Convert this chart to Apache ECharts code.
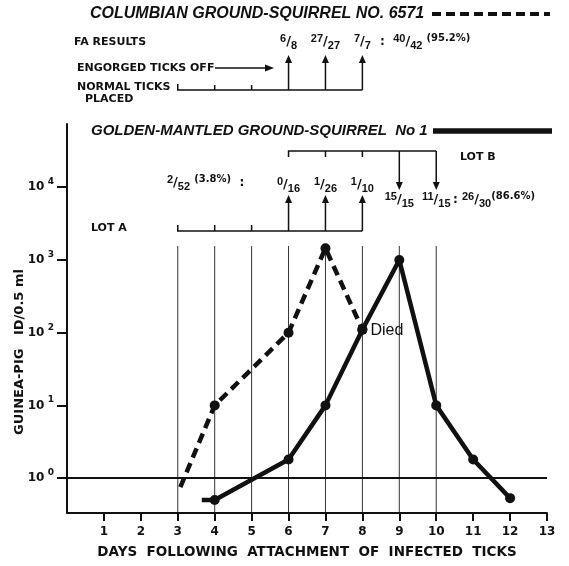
<!DOCTYPE html>
<html>
<head>
<meta charset="utf-8">
<script src="https://cdn.jsdelivr.net/npm/echarts@6/dist/echarts.min.js"></script>
<style>
body{margin:0;background:#fff}
#main{width:569px;height:566px}
</style>
</head>
<body>
<div id="main"></div>
<script>
// guinea-pig ID per 0.5 ml, by day after attachment of infected ticks
var colDays = [3.07, 4, 6, 7, 8];
var colTiter = [0.75, 10, 100, 1450, 110];
var gmDays = [3.65, 4, 6, 7, 8, 9, 10, 11, 12];
var gmTiter = [0.5, 0.5, 1.8, 10, 110, 1000, 10, 1.8, 0.53];

var dayTicks = [1, 2, 3, 4, 5, 6, 7, 8, 9, 10, 11, 12, 13];
var titerTicks = [1, 10, 100, 1000, 10000];
var guideDays = [3, 4, 5, 6, 7, 8, 9, 10];

// FA results
var colFaDays = [6, 7, 8];
var colFa = [['6', '8'], ['27', '27'], ['7', '7']];
var lotADays = [6, 7, 8];
var lotAFa = [['0', '16'], ['1', '26'], ['1', '10']];
var lotBDays = [9, 10];
var lotBFa = [['15', '15'], ['11', '15']];

var INK = '#111';
var FONT = 'DejaVu Sans';

var chart = echarts.init(document.getElementById('main'));

function pts(days, vals) {
    return days.map(function (d, i) {
        if (i === 0) return {value: [d, vals[i]], symbol: 'none'};
        return [d, vals[i]];
    });
}

var option = {
    animation: false,
    backgroundColor: '#fff',
    grid: {left: 67, right: 22, top: 124, bottom: 53, outerBoundsMode: 'none'},
    xAxis: {
        type: 'value',
        min: 0,
        max: 13,
        interval: 1,
        name: 'DAYS  FOLLOWING  ATTACHMENT  OF  INFECTED  TICKS',
        nameLocation: 'middle',
        nameGap: 32,
        nameTextStyle: {color: INK, fontFamily: FONT, fontWeight: 'bold', fontSize: 13.5},
        axisLine: {lineStyle: {color: INK, width: 2}},
        axisTick: {customValues: dayTicks, length: 8, lineStyle: {color: INK, width: 2}},
        axisLabel: {customValues: dayTicks, margin: 13, color: INK, fontFamily: FONT, fontWeight: 'bold', fontSize: 12},
        splitLine: {show: false}
    },
    yAxis: {
        type: 'log',
        logBase: 10,
        min: 0.331,
        max: 74100,
        axisLine: {show: true, lineStyle: {color: INK, width: 2}},
        axisTick: {show: true, customValues: titerTicks, length: 10, lineStyle: {color: INK, width: 2}},
        axisLabel: {
            customValues: titerTicks,
            margin: 13,
            formatter: function (v) {
                return '{b|10} {s|' + Math.round(Math.log10(v)) + '}';
            },
            rich: {
                b: {color: INK, fontFamily: FONT, fontWeight: 'bold', fontSize: 12, lineHeight: 20},
                s: {color: INK, fontFamily: FONT, fontWeight: 'bold', fontSize: 9, verticalAlign: 'top'}
            }
        },
        splitLine: {show: false}
    },
    series: [
        {
            name: 'Columbian ground-squirrel No. 6571',
            type: 'line',
            data: pts(colDays, colTiter),
            symbol: 'circle',
            symbolSize: 10,
            itemStyle: {color: INK},
            lineStyle: {color: INK, width: 4.5, type: [10, 6]},
            z: 4,
            markLine: {
                silent: true,
                symbol: 'none',
                label: {show: false},
                lineStyle: {color: INK, width: 2, type: 'solid'},
                data: [{yAxis: 1}]
            }
        },
        {
            name: 'Golden-mantled ground-squirrel No 1',
            type: 'line',
            data: pts(gmDays, gmTiter),
            symbol: 'circle',
            symbolSize: 10,
            itemStyle: {color: INK},
            lineStyle: {color: INK, width: 4.5},
            z: 5
        }
    ]
};
chart.setOption(option);

// ---- annotations ----
function px(day) {
    return chart.convertToPixel({xAxisIndex: 0}, day);
}
function txt(x, y, s, extra) {
    var st = {text: s, x: x, y: y, fill: INK, font: 'bold 11px "' + FONT + '"', verticalAlign: 'middle', align: 'left'};
    for (var k in extra) st[k] = extra[k];
    return {type: 'text', silent: true, z: 10, style: st};
}
function ln(x1, y1, x2, y2, w, dash) {
    return {type: 'line', silent: true, z: 10,
        shape: {x1: x1, y1: y1, x2: x2, y2: y2},
        style: {stroke: INK, lineWidth: w || 1.5, lineDash: dash || null}};
}
function poly(points) {
    return {type: 'polyline', silent: true, z: 10, shape: {points: points},
        style: {stroke: INK, lineWidth: 1.5, fill: null}};
}
// vertical arrow, tail at y1, tip at y2
function varrow(x, y1, y2) {
    var dir = y2 < y1 ? 1 : -1;
    var base = y2 + dir * 8;
    return [
        ln(x, y1, x, base, 1.5),
        {type: 'polygon', silent: true, z: 10, shape: {points: [[x - 3.5, base], [x + 3.5, base], [x, y2]]}, style: {fill: INK}}
    ];
}
var NUM = 'Liberation Sans';
var fracRich = {
    n: {fontFamily: NUM, fontWeight: 'bold', fontSize: 11, fill: INK, verticalAlign: 'top'},
    sl: {fontFamily: FONT, fontWeight: 'bold', fontSize: 13, fill: INK, lineHeight: 18},
    d: {fontFamily: NUM, fontWeight: 'bold', fontSize: 11, fill: INK, verticalAlign: 'bottom'},
    t: {fontFamily: FONT, fontWeight: 'bold', fontSize: 12, fill: INK},
    p: {fontFamily: FONT, fontWeight: 'bold', fontSize: 10, fill: INK, verticalAlign: 'top'}
};
function frac(a) {
    return '{n|' + a[0] + '}{sl|/}{d|' + a[1] + '}';
}
function fracTxt(x, y, s, align) {
    return {type: 'text', silent: true, z: 10,
        style: {text: s, x: x, y: y, align: align || 'center', verticalAlign: 'middle', rich: fracRich}};
}

var g = [];
// guide lines below the lot brackets
guideDays.forEach(function (d) {
    g.push({type: 'line', silent: true, z: 1, shape: {x1: px(d), y1: 246, x2: px(d), y2: 512},
        style: {stroke: '#333', lineWidth: 1}});
});

// upper panel: Columbian ground-squirrel
g.push(txt(90, 14, 'COLUMBIAN GROUND-SQUIRREL NO. 6571', {font: 'italic bold 16px "Liberation Sans"'}));
g.push(ln(432, 14, 550, 14, 4, [9, 5]));
g.push(txt(74, 42, 'FA RESULTS'));
colFaDays.forEach(function (d, i) {
    g.push(fracTxt(px(d), 42, frac(colFa[i])));
    g = g.concat(varrow(px(d), 90, 55));
});
g.push(fracTxt(380, 42, '{t|:  }' + frac(['40', '42']) + '{t| }{p|(95.2%)}', 'left'));
g.push(txt(77, 68, 'ENGORGED TICKS OFF'));
g.push(ln(215, 68, 266, 68, 1.5));
g.push({type: 'polygon', silent: true, z: 10, shape: {points: [[265, 64.5], [265, 71.5], [274, 68]]}, style: {fill: INK}});
g.push(txt(77, 87, 'NORMAL TICKS'));
g.push(txt(85, 99, 'PLACED'));
g.push(poly([[px(3), 84], [px(3), 90], [px(8), 90]]));
[4, 5].forEach(function (d) { g.push(ln(px(d), 85, px(d), 90, 1.5)); });

// lower panel: golden-mantled ground-squirrel
g.push(txt(91, 131, 'GOLDEN-MANTLED GROUND-SQUIRREL  No 1', {font: 'italic bold 15px "Liberation Sans"'}));
g.push(ln(433, 131, 552, 131, 5.5));
g.push(poly([[px(6), 157], [px(6), 151], [px(10), 151]]));
[7, 8].forEach(function (d) { g.push(ln(px(d), 151, px(d), 157, 1.5)); });
lotBDays.forEach(function (d, i) {
    g = g.concat(varrow(px(d), 151, 190));
    g.push(fracTxt(px(d), 200, frac(lotBFa[i])));
});
g.push(txt(460, 157, 'LOT B'));
g.push(fracTxt(167, 183, frac(['2', '52']) + '{t| }{p|(3.8%)}{t|  :}', 'left'));
lotADays.forEach(function (d, i) {
    g.push(fracTxt(px(d), 185, frac(lotAFa[i])));
    g = g.concat(varrow(px(d), 231, 195));
});
g.push(fracTxt(453, 200, '{t|: }' + frac(['26', '30']) + '{p|(86.6%)}', 'left'));
g.push(txt(91, 228, 'LOT A'));
g.push(poly([[px(3), 225], [px(3), 231], [px(8), 231]]));
[4, 5].forEach(function (d) { g.push(ln(px(d), 225, px(d), 231, 1.5)); });

// death of the Columbian squirrel
var diedPt = chart.convertToPixel({xAxisIndex: 0, yAxisIndex: 0}, [colDays[colDays.length - 1], colTiter[colTiter.length - 1]]);
g.push(txt(diedPt[0] + 8, diedPt[1] + 1, 'Died', {font: '16px "Liberation Sans"'}));

// y axis title
g.push({type: 'text', silent: true, z: 10, rotation: Math.PI / 2, x: 20, y: 352,
    style: {text: 'GUINEA-PIG   ID/0.5 ml', x: 0, y: 0, align: 'center', verticalAlign: 'middle',
        fill: INK, font: 'bold 13px "' + FONT + '"'}});

chart.setOption({graphic: g});
</script>
</body>
</html>
